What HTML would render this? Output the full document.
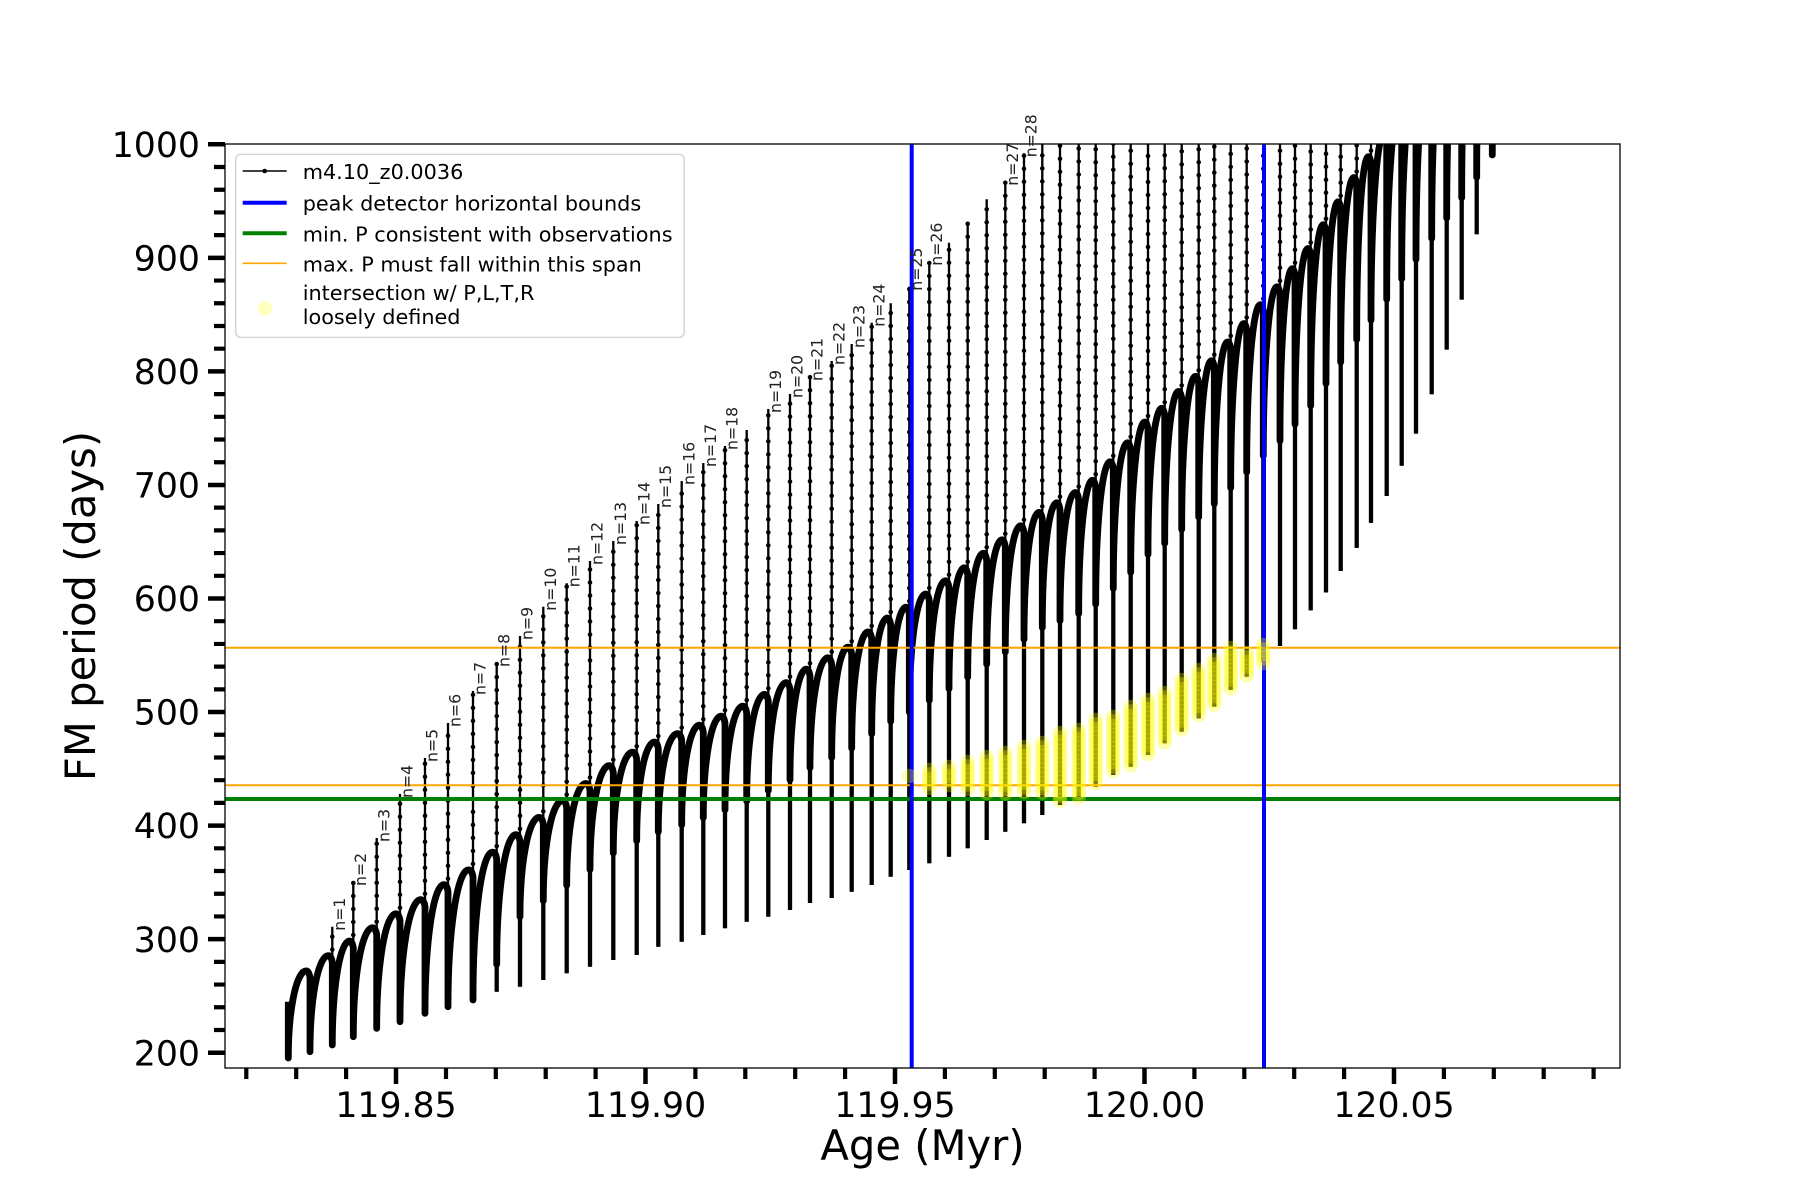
<!DOCTYPE html>
<html><head><meta charset="utf-8"><style>
html,body{margin:0;padding:0;background:#fff;}
svg{display:block;font-family:"DejaVu Sans","Liberation Sans",sans-serif;}
</style></head><body>
<svg id="s" xmlns="http://www.w3.org/2000/svg" width="1800" height="1200" viewBox="0 0 1800 1200">
<defs><clipPath id="c"><rect x="225" y="144" width="1395" height="924"/></clipPath></defs>
<rect width="1800" height="1200" fill="#fff"/>
<g clip-path="url(#c)">
<path id="dense" fill="none" stroke="#000" stroke-width="4.3"/>
<path id="thin" fill="none" stroke="#000" stroke-width="2.3"/>
<path id="dots" fill="none" stroke="#000" stroke-width="4.6" stroke-linecap="round" stroke-dasharray="0 13"/>
<path id="thick" fill="none" stroke="#000" stroke-width="6.8" stroke-linejoin="round"/>
<line x1="225" y1="799" x2="1620" y2="799" stroke="#008000" stroke-width="4"/>
<line x1="225" y1="647.7" x2="1620" y2="647.7" stroke="#ffa500" stroke-width="2"/>
<line x1="225" y1="785.3" x2="1620" y2="785.3" stroke="#ffa500" stroke-width="2"/>
<line x1="911.7" y1="144" x2="911.7" y2="1068" stroke="#0000ff" stroke-width="4"/>
<line x1="1264" y1="144" x2="1264" y2="1068" stroke="#0000ff" stroke-width="4"/>
<g id="yel" fill="#ffff00" fill-opacity="0.3"></g>
</g>
<rect x="225" y="144" width="1395" height="924" fill="none" stroke="#000" stroke-width="1.3"/>
<!-- y ticks -->
<path stroke="#000" stroke-width="4.5" d="M208,1052.7H225M208,939.15H225M208,825.6H225M208,712.05H225M208,598.5H225M208,484.95H225M208,371.4H225M208,257.85H225M208,144.3H225"/>
<path stroke="#000" stroke-width="4.2" d="M214,1029.99H225M214,1007.28H225M214,984.57H225M214,961.86H225M214,916.44H225M214,893.73H225M214,871.02H225M214,848.31H225M214,802.89H225M214,780.18H225M214,757.47H225M214,734.76H225M214,689.34H225M214,666.63H225M214,643.92H225M214,621.21H225M214,575.79H225M214,553.08H225M214,530.37H225M214,507.66H225M214,462.24H225M214,439.53H225M214,416.82H225M214,394.11H225M214,348.69H225M214,325.98H225M214,303.27H225M214,280.56H225M214,235.14H225M214,212.43H225M214,189.72H225M214,167.01H225"/>
<!-- x ticks -->
<path stroke="#000" stroke-width="4.5" d="M396,1068V1084M645.5,1068V1084M895,1068V1084M1144.5,1068V1084M1394,1068V1084"/>
<path stroke="#000" stroke-width="4.2" d="M246.3,1068V1079M296.2,1068V1079M346.1,1068V1079M446,1068V1079M495.8,1068V1079M545.7,1068V1079M595.6,1068V1079M695.4,1068V1079M745.3,1068V1079M795.2,1068V1079M845.1,1068V1079M944.9,1068V1079M994.8,1068V1079M1044.7,1068V1079M1094.6,1068V1079M1194.4,1068V1079M1244.3,1068V1079M1294.2,1068V1079M1344.1,1068V1079M1443.9,1068V1079M1493.8,1068V1079M1543.7,1068V1079M1593.6,1068V1079"/>
<g font-size="34.7" fill="#000" text-anchor="end">
<text x="200" y="1065.3">200</text>
<text x="200" y="951.8">300</text>
<text x="200" y="838.2">400</text>
<text x="200" y="724.7">500</text>
<text x="200" y="611.1">600</text>
<text x="200" y="497.6">700</text>
<text x="200" y="384">800</text>
<text x="200" y="270.5">900</text>
<text x="200" y="156.9">1000</text>
</g>
<g font-size="34.7" fill="#000" text-anchor="middle">
<text x="396" y="1117">119.85</text>
<text x="645.5" y="1117">119.90</text>
<text x="895" y="1117">119.95</text>
<text x="1144.5" y="1117">120.00</text>
<text x="1394" y="1117">120.05</text>
</g>
<text x="922.5" y="1160" font-size="41.7" text-anchor="middle">Age (Myr)</text>
<text x="95" y="606" font-size="41.7" text-anchor="middle" transform="rotate(-90 95 606)">FM period (days)</text>
<!-- n labels -->
<g font-size="15.7" fill="#222">
<text transform="translate(345,930.7) rotate(-90)">n=1</text>
<text transform="translate(366,886) rotate(-90)">n=2</text>
<text transform="translate(389.4,842) rotate(-90)">n=3</text>
<text transform="translate(412.7,798) rotate(-90)">n=4</text>
<text transform="translate(437.7,762) rotate(-90)">n=5</text>
<text transform="translate(460.7,727) rotate(-90)">n=6</text>
<text transform="translate(485.7,695) rotate(-90)">n=7</text>
<text transform="translate(509.4,667) rotate(-90)">n=8</text>
<text transform="translate(532.7,640) rotate(-90)">n=9</text>
<text transform="translate(556,610.7) rotate(-90)">n=10</text>
<text transform="translate(579.4,587.3) rotate(-90)">n=11</text>
<text transform="translate(602.7,565) rotate(-90)">n=12</text>
<text transform="translate(626,545) rotate(-90)">n=13</text>
<text transform="translate(649.4,525) rotate(-90)">n=14</text>
<text transform="translate(671,508) rotate(-90)">n=15</text>
<text transform="translate(694.4,485) rotate(-90)">n=16</text>
<text transform="translate(716,467) rotate(-90)">n=17</text>
<text transform="translate(737.7,450) rotate(-90)">n=18</text>
<text transform="translate(781,413) rotate(-90)">n=19</text>
<text transform="translate(802.7,398) rotate(-90)">n=20</text>
<text transform="translate(822.7,381) rotate(-90)">n=21</text>
<text transform="translate(844.4,365) rotate(-90)">n=22</text>
<text transform="translate(864.4,348) rotate(-90)">n=23</text>
<text transform="translate(884.4,326.7) rotate(-90)">n=24</text>
<text transform="translate(922,290.7) rotate(-90)">n=25</text>
<text transform="translate(942,265.7) rotate(-90)">n=26</text>
<text transform="translate(1018,185.7) rotate(-90)">n=27</text>
<text transform="translate(1036.7,157.3) rotate(-90)">n=28</text>
</g>
<!-- legend -->
<rect x="235.7" y="154.3" width="448.5" height="183" rx="5" fill="#fff" fill-opacity="0.8" stroke="#cccccc" stroke-width="1.2"/>
<line x1="242.7" y1="171" x2="286.7" y2="171" stroke="#000" stroke-width="1.6"/>
<circle cx="264.7" cy="171" r="2.3" fill="#000"/>
<line x1="242.7" y1="202.7" x2="286.7" y2="202.7" stroke="#0000ff" stroke-width="4"/>
<line x1="242.7" y1="233.3" x2="286.7" y2="233.3" stroke="#008000" stroke-width="4"/>
<line x1="242.7" y1="263.3" x2="286.7" y2="263.3" stroke="#ffa500" stroke-width="1.6"/>
<circle cx="265" cy="308.3" r="7.3" fill="#ffff00" fill-opacity="0.25"/>
<g font-size="20.8" fill="#000">
<text x="302.7" y="179">m4.10_z0.0036</text>
<text x="302.7" y="210.7">peak detector horizontal bounds</text>
<text x="302.7" y="241.3">min. P consistent with observations</text>
<text x="302.7" y="271.3">max. P must fall within this span</text>
<text x="302.7" y="300">intersection w/ P,L,T,R</text>
<text x="302.7" y="324">loosely defined</text>
</g>
</svg>
<script>
(function(){
var X=[288.3,310,332.3,353.3,376.7,400,425,448,473,496.7,520,543.3,566.7,590,613.3,636.7,658.3,681.7,703.3,725,746.7,768.3,790,810,831.7,851.7,871.7,890.7,909.3,929.3,949,967.7,986.7,1005.3,1024,1042.3,1060,1078.7,1095.7,1113.3,1130.7,1148,1164.7,1181.7,1198.7,1214.3,1230.7,1246.7,1263.3,1280,1295,1310.7,1326,1340.7,1356.7,1371,1386.7,1401.7,1416,1431.7,1446.7,1461.7,1476.7,1492.3];
var B=[1058,1051.7,1045,1036.7,1028.3,1021.7,1013.3,1006.7,1000,991.7,986.7,980,973.3,966.7,960,955,946.7,941.7,935,928.3,921.7,916.7,910,903,898,891.7,885,876.7,870,863.3,856.7,848.3,840,831.7,823.3,815,805,798,786.7,775,766.7,755,743.3,731.7,718.3,706.7,690,676.7,661.7,646,629.3,610.4,592.5,571,547.9,522.9,496,465.7,433.6,394.3,349.6,299.6,234.3,155];
var T=[null,null,926.7,882,838,794,758,723,691,663,636,606.7,583.3,561,541,521,504,481,463,446,430,409,394,377,361,344,322.7,303.3,286.7,261.7,242.7,222.7,199.3,181.7,153.3];
var P=[[288,985],[305,971.7],[326.7,956.7],[348.3,941.7],[371.7,928.3],[396.7,913.3],[420,900],[443.3,885],[468.3,870],[540,816.7],[563.3,800],[588.3,781.7],[610,765],[633.3,751.7],[655,741.7],[678.3,733.3],[700,725],[720,716.7],[741.7,706.7],[763.3,695],[785,683.3],[805,670],[826.7,658.3],[846.7,648.3],[868.3,631.7],[886.7,618.3],[906.7,606.7],[926.7,593.3],[946.7,580],[965,567.3],[983.3,553.3],[1001.7,540],[1021.7,525],[1040,511.7],[1058.3,502],[1076.7,491.7],[1093,480],[1125,446],[1143.3,423.3],[1161.7,408.3],[1178.3,391.7],[1205,368],[1260,305],[1276.7,287.1],[1293.3,267.5],[1308.3,247.9],[1323.3,224.6],[1338.3,201.4],[1353.3,178.2],[1368.3,156.8],[1500,-35]];
var H=[[300,200],[470,140],[520,75],[871.7,95],[1042,108],[1280,147],[1500,170]];
function L(t,x){if(x<=t[0][0])return t[0][1];for(var i=1;i<t.length;i++){if(x<=t[i][0]){var a=t[i-1],b=t[i];return a[1]+(b[1]-a[1])*(x-a[0])/(b[0]-a[0]);}}var a=t[t.length-2],b=t[t.length-1];return b[1]+(b[1]-a[1])*(x-b[0])/(b[0]-a[0]);}
function f(v){return Math.round(v*10)/10;}
var thick="",thin="",dense="",dots="",prevEnd=null,k=0.5523;
for(var i=0;i<X.length;i++){
 var x=X[i],x1=(i<X.length-1)?X[i+1]:x+16,dx=x1-x,px=x+0.82*dx,py=L(P,px),D;
 if(i===0){D=B[0];thick+="M"+x+",1001.7V"+D;}
 else{D=Math.min(B[i],prevEnd+L(H,x));thick+="V"+f(D);}
 thick+="C"+x+","+f(D-k*(D-py))+" "+f(px-k*(px-x))+","+f(py)+" "+f(px)+","+f(py)+"Q"+f(x1-1)+","+f(py)+" "+x1+","+f(py+7);
 if(i>=2){var t=(i<T.length&&T[i]!=null)?T[i]:100;thin+="M"+x+","+B[i]+"V"+t;dots+="M"+x+","+f(prevEnd)+"V"+t;}
 if(D<B[i])dense+="M"+x+","+B[i]+"V"+f(D);
 prevEnd=py+7;
}
document.getElementById("thick").setAttribute("d",thick);
document.getElementById("thin").setAttribute("d",thin);
document.getElementById("dense").setAttribute("d",dense);
document.getElementById("dots").setAttribute("d",dots);
var Y=[[909.3,776,780],[929.3,770,788],[949,767,788],[967.7,762,790],[986.7,757,793],[1005.3,753,795],[1024,747,793],[1042.3,743,795],[1060,733,803],[1078.7,730,798],[1095.7,720,785],[1113.3,717,773],[1130.7,707,767],[1148,700,755],[1164.7,693,743],[1181.7,680,730],[1198.7,670,718],[1214.3,660,707],[1230.7,648,690],[1246.7,653,677],[1263.3,645,665]];
var g=document.getElementById("yel"),NS="http://www.w3.org/2000/svg";
for(var j=0;j<Y.length;j++){for(var y=Y[j][1];y<=Y[j][2]+0.1;y+=4.5){var c=document.createElementNS(NS,"circle");c.setAttribute("cx",Y[j][0]);c.setAttribute("cy",y);c.setAttribute("r",7.3);g.appendChild(c);}}
})();
</script>
</body></html>
